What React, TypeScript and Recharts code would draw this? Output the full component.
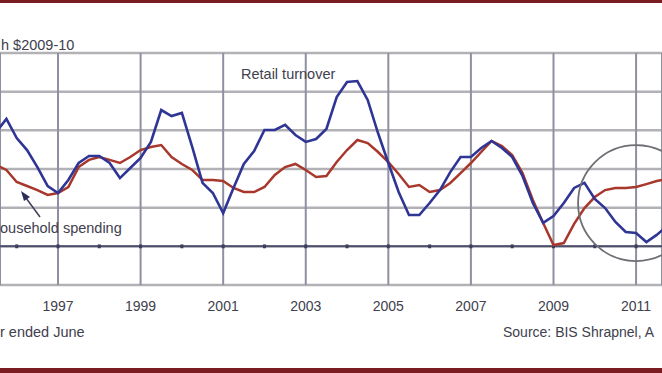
import React from 'react'
import {
  LineChart,
  Line,
  XAxis,
  YAxis,
  CartesianGrid,
  ReferenceLine,
  ReferenceDot,
} from 'recharts'

// quarterly observations, year ended June
const QUARTERS = Array.from({ length: 66 }, (_, i) => 1995.5 + i * 0.25)

// annual growth, %
const RETAIL = [
  5.91, 6.59, 5.6, 4.98, 4.1, 3.12, 2.76, 3.43, 4.31, 4.67, 4.67, 4.31, 3.53,
  4.05, 4.57, 5.4, 7.05, 6.74, 6.9, 5.14, 3.28, 2.76, 1.72, 3.02, 4.26, 4.93,
  6.02, 6.02, 6.28, 5.76, 5.4, 5.55, 6.07, 7.72, 8.5, 8.55, 7.57, 5.86, 4.31,
  2.81, 1.62, 1.62, 2.24, 2.91, 3.84, 4.62, 4.62, 5.09, 5.45, 5.09, 4.62, 3.64,
  2.24, 1.21, 1.57, 2.24, 3.02, 3.28, 2.45, 1.98, 1.26, 0.74, 0.69, 0.22, 0.59,
  1.05,
]

const HOUSEHOLD = [
  4.21, 3.95, 3.33, 3.12, 2.91, 2.66, 2.76, 3.07, 4.1, 4.47, 4.62, 4.47, 4.31,
  4.62, 4.98, 5.14, 5.24, 4.62, 4.26, 3.95, 3.43, 3.43, 3.38, 3.02, 2.81, 2.81,
  3.07, 3.69, 4.1, 4.26, 3.95, 3.59, 3.64, 4.36, 4.98, 5.5, 5.34, 4.88, 4.36,
  3.74, 3.07, 3.17, 2.81, 2.91, 3.28, 3.79, 4.31, 4.88, 5.45, 5.19, 4.72, 3.79,
  2.4, 1.21, 0.07, 0.17, 1.16, 1.98, 2.55, 2.91, 3.02, 3.02, 3.07, 3.22, 3.38,
  3.48,
]

const YEAR_TICKS = [1997, 1999, 2001, 2003, 2005, 2007, 2009, 2011]
const MINOR_YEARS = [
  1996, 1997, 1998, 1999, 2000, 2001, 2002, 2003, 2004, 2005, 2006, 2007, 2008,
  2009, 2010, 2011,
]
const Y_TICKS = [-2, 0, 2, 4, 6, 8, 10]

const data = QUARTERS.map((t, i) => ({
  t,
  retail: RETAIL[i],
  household: HOUSEHOLD[i],
}))

const FONT = 'Arial, "Liberation Sans", sans-serif'
const TEXT = '#40404e'

export default function App() {
  return (
    <div
      style={{
        position: 'absolute',
        left: 0,
        top: 0,
        width: 662,
        height: 373,
        background: '#fff',
        overflow: 'hidden',
      }}
    >
      <LineChart
        width={662}
        height={373}
        data={data}
        margin={{ top: 53, right: 0, bottom: 58, left: 0 }}
      >
        <CartesianGrid
          horizontal={true}
          vertical={false}
          stroke='#b2b2b6'
          strokeWidth={2.5}
        />
        <CartesianGrid
          horizontal={false}
          vertical={true}
          stroke='#8e90a2'
          strokeWidth={2}
        />
        <XAxis
          dataKey='t'
          type='number'
          domain={[1995.595, 2011.628]}
          allowDataOverflow
          ticks={YEAR_TICKS}
          interval={0}
          height={30}
          tickLine={false}
          axisLine={false}
          tickMargin={10}
          tick={{ fontSize: 14, fill: TEXT, fontFamily: FONT }}
        />
        <YAxis hide domain={[-2, 10]} ticks={Y_TICKS} allowDataOverflow />
        <ReferenceLine y={0} stroke='#4c4e6c' strokeWidth={2} />
        {MINOR_YEARS.map((yr) => (
          <ReferenceLine
            key={yr}
            segment={[
              { x: yr, y: -0.1 },
              { x: yr, y: 0.1 },
            ]}
            stroke='#3c3e5c'
            strokeWidth={3}
          />
        ))}
        <Line
          type='linear'
          dataKey='household'
          stroke='#a8372c'
          strokeWidth={2.5}
          dot={false}
          isAnimationActive={false}
        />
        <Line
          type='linear'
          dataKey='retail'
          stroke='#2f3594'
          strokeWidth={2.6}
          dot={false}
          isAnimationActive={false}
        />
        <ReferenceDot
          x={2011}
          y={2.24}
          r={58}
          fill='none'
          stroke='#6e6e74'
          strokeWidth={1.8}
        />
      </LineChart>
      <svg
        width={662}
        height={373}
        style={{ position: 'absolute', left: 0, top: 0, pointerEvents: 'none' }}
      >
        <rect x={0} y={0} width={662} height={3} fill='#7b1c22' />
        <rect x={0} y={368} width={662} height={5} fill='#7b1c22' />
        <g fontFamily={FONT} fill={TEXT} fontSize={14.5}>
          <text x={1} y={50}>h $2009-10</text>
          <text x={241} y={79}>Retail turnover</text>
          <text x={0} y={233}>ousehold spending</text>
          <text x={0} y={337}>r ended June</text>
          <text x={503} y={337} fontSize={14}>Source: BIS Shrapnel, A</text>
        </g>
        <line x1={40} y1={217} x2={26} y2={198} stroke='#3c3e5c' strokeWidth={1.5} />
        <polygon points='21,191 30,197 24,201' fill='#2c2e5a' />
      </svg>
    </div>
  )
}
